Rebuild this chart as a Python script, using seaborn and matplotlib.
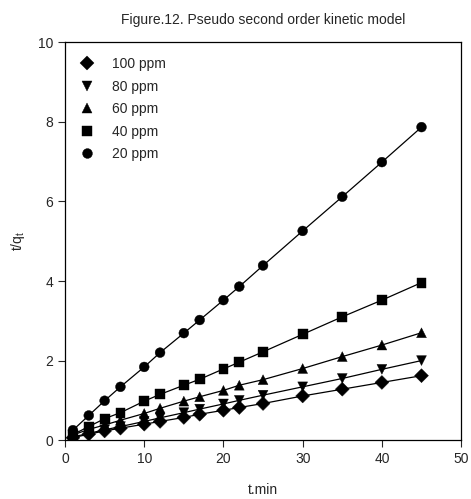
import seaborn as sns
import pandas as pd
import matplotlib.pyplot as plt

# time points (min)
t_min = [1, 3, 5, 7, 10, 12, 15, 17, 20, 22, 25, 30, 35, 40, 45]

# t/qt values, one list per initial concentration
tq_100 = [0.06, 0.15, 0.23, 0.30, 0.40, 0.47, 0.57, 0.65, 0.75, 0.82, 0.92, 1.11, 1.28, 1.45, 1.62]
tq_80 = [0.08, 0.17, 0.26, 0.34, 0.47, 0.56, 0.69, 0.78, 0.91, 1.00, 1.13, 1.34, 1.55, 1.78, 2.00]
tq_60 = [0.13, 0.27, 0.38, 0.50, 0.67, 0.80, 0.98, 1.09, 1.25, 1.38, 1.52, 1.80, 2.10, 2.39, 2.70]
tq_40 = [0.14, 0.34, 0.54, 0.69, 0.98, 1.15, 1.38, 1.53, 1.79, 1.96, 2.22, 2.66, 3.10, 3.52, 3.96]
tq_20 = [0.25, 0.62, 0.99, 1.34, 1.84, 2.20, 2.69, 3.02, 3.52, 3.86, 4.39, 5.26, 6.12, 6.99, 7.87]

labels = ['100 ppm', '80 ppm', '60 ppm', '40 ppm', '20 ppm']
series = [tq_100, tq_80, tq_60, tq_40, tq_20]

'''DATA CONVERSION'''
rows = []
for lab, vals in zip(labels, series):
    for t, v in zip(t_min, vals):
        rows.append({'t': t, 'tq': v, 'conc': lab})
df = pd.DataFrame(rows)

'''PLOTTING'''
sns.set_style('ticks')
plt.rcParams['font.family'] = ['Liberation Sans', 'DejaVu Sans']
plt.rcParams['mathtext.default'] = 'regular'

fig = plt.figure(figsize=(4.71, 4.99), dpi=100)
ax = fig.add_axes([0.138, 0.118, 0.841, 0.797])

black = {lab: 'black' for lab in labels}
marker_map = {'100 ppm': 'D', '80 ppm': 'v', '60 ppm': '^', '40 ppm': 's', '20 ppm': 'o'}

# connecting lines
sns.lineplot(data=df, x='t', y='tq', hue='conc', hue_order=labels, palette=black,
             linewidth=0.9, legend=False, ax=ax)

# markers
sns.scatterplot(data=df, x='t', y='tq', hue='conc', style='conc', hue_order=labels,
                style_order=labels, palette=black, markers=marker_map,
                s=50, edgecolor='black', linewidth=0.3, ax=ax, zorder=3)

ax.set_xlim(0, 50)
ax.set_ylim(0, 10)
ax.set_xticks(range(0, 51, 10))
ax.set_yticks(range(0, 11, 2))
ax.tick_params(labelsize=10, length=5, width=0.8, direction='out')
for sp in ax.spines.values():
    sp.set_linewidth(0.9)
    sp.set_color('black')

ax.set_xlabel('t.min', fontsize=10, labelpad=12)
ax.set_ylabel('t/q$_t$', fontsize=10, labelpad=8)
ax.set_title('Figure.12. Pseudo second order kinetic model', fontsize=10, pad=13)

leg = ax.legend(loc='upper left', bbox_to_anchor=(-0.01, 0.995), frameon=False,
                fontsize=10, handletextpad=0.8, labelspacing=0.62, markerscale=1.0)

plt.savefig('out.png', dpi=100)
